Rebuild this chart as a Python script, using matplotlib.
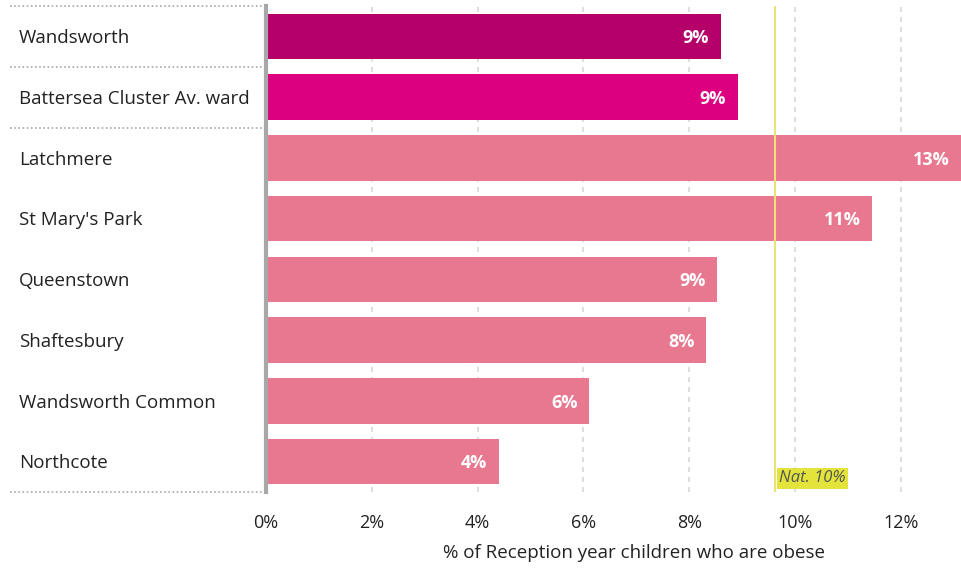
import matplotlib.pyplot as plt
from matplotlib.lines import Line2D
from matplotlib.transforms import blended_transform_factory

plt.rcParams['font.family'] = ['Open Sans', 'DejaVu Sans']

# data
wards = ["Wandsworth", "Battersea Cluster Av. ward", "Latchmere", "St Mary's Park",
         "Queenstown", "Shaftesbury", "Wandsworth Common", "Northcote"]
obese_pct = [8.60, 8.92, 13.14, 11.46, 8.53, 8.32, 6.11, 4.40]
bar_colors = ["#B5006A", "#DC0080", "#E8788F", "#E8788F",
              "#E8788F", "#E8788F", "#E8788F", "#E8788F"]
national = 9.62
xticks = [0, 2, 4, 6, 8, 10, 12]

W, H = 961, 568
fig = plt.figure(figsize=(W / 100, H / 100), dpi=100)
ax = fig.add_axes([266 / W, (H - 492) / H, (W - 266) / W, (492 - 6) / H])

ypos = list(range(len(wards)))
ax.barh(ypos, obese_pct, height=0.75, color=bar_colors, zorder=2)
ax.set_ylim(len(wards) - 0.5, -0.5)
ax.set_xlim(0, max(obese_pct))

# dashed grid
for xv in xticks[1:]:
    ax.axvline(xv, color="#D8D8D8", lw=1.2, ls=(0, (3, 3)), zorder=1)

# national reference line
ax.axvline(national, color="#EDE27A", lw=1.5, zorder=3)
ax.text(national + 0.08, 7.27, "Nat. 10%", fontsize=12, style="italic", color="#555555",
        ha="left", va="center", zorder=4,
        bbox=dict(boxstyle="square,pad=0.15", fc="#E2E43C", ec="none"))

# value labels inside bar ends
for y, v in zip(ypos, obese_pct):
    ax.text(v - 0.22, y + 0.03, f"{v:.0f}%", color="white", fontweight="bold",
            fontsize=13, ha="right", va="center", zorder=4)

ax.set_yticks([])
ax.set_xticks(xticks)
ax.set_xticklabels([f"{t}%" for t in xticks], fontsize=13, color="#222222")
ax.tick_params(axis="x", length=0, pad=16)
ax.set_xlabel("% of Reception year children who are obese", fontsize=13.5,
              color="#222222")
ax.xaxis.set_label_coords((634 - 266) / (W - 266), -52 / (492 - 6))
for s in ["top", "right", "bottom"]:
    ax.spines[s].set_visible(False)
ax.spines["left"].set_color("#A8A8A8")
ax.spines["left"].set_linewidth(3)

# category labels and dotted separators on the left
tr = blended_transform_factory(fig.transFigure, ax.transData)
for y, name in zip(ypos, wards):
    ax.text(19 / W, y + 0.03, name, transform=tr, fontsize=13.5, color="#222222",
            ha="left", va="center")
for yb in [-0.5, 0.5, 1.5, 7.5]:
    fig.add_artist(Line2D([10 / W, 262 / W], [yb, yb], transform=tr,
                          color="#A8A8A8", lw=1.2, ls=(0, (1, 1.5))))

fig.savefig("out.png", dpi=100)
